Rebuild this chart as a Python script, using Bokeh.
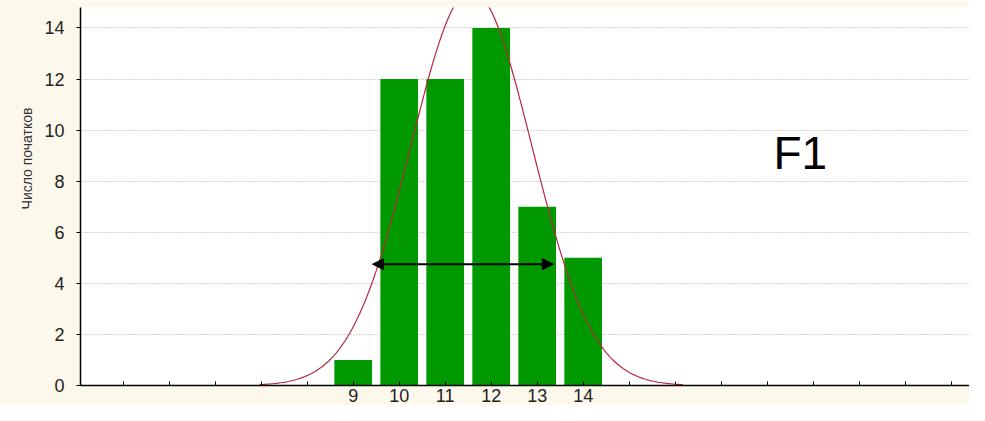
import math
import numpy as np
from bokeh.plotting import figure
from bokeh.models import Range1d, FixedTicker, Arrow, NormalHead, Label, Title
from bokeh.embed import file_html
from bokeh.resources import INLINE

# Data
classes = [9, 10, 11, 12, 13, 14]
counts = [1, 12, 12, 14, 7, 5]
y_ticks = [0, 2, 4, 6, 8, 10, 12, 14]
x_ticks = list(range(4, 23))
x_tick_labels = {9: "9", 10: "10", 11: "11", 12: "12", 13: "13", 14: "14"}
arrow_x = [9.42, 13.35]
arrow_y = 4.75
y_title = "Число початков"
panel_text = "F1"

# Fitted normal curve (expected counts) from the histogram
n = sum(counts)
mean = sum(c * k for c, k in zip(classes, counts)) / n
var = sum(k * (c - mean) ** 2 for c, k in zip(classes, counts)) / (n - 1)
sd = math.sqrt(var)
cx = np.linspace(mean - 3.5 * sd, mean + 3.5 * sd, 300)
cy = n * 1.0 / (sd * math.sqrt(2 * math.pi)) * np.exp(-0.5 * ((cx - mean) / sd) ** 2)

FONT = "Liberation Sans"
CREAM = "#FDF8EC"

p = figure(width=969, height=405, x_range=Range1d(3.07, 22.4), y_range=Range1d(0, 14.8),
           output_backend="svg", toolbar_location=None,
           min_border_left=80, min_border_right=0, min_border_top=7, min_border_bottom=20)
p.background_fill_color = "white"
p.border_fill_color = CREAM
p.outline_line_color = None

p.vbar(x=classes, top=counts, width=0.82, fill_color="#009A00", line_color=None)
p.line(cx, cy, line_color="#B5283C", line_width=1.2)

p.add_layout(Arrow(x_start=arrow_x[0], x_end=arrow_x[1], y_start=arrow_y, y_end=arrow_y,
                   line_color="black", line_width=2,
                   start=NormalHead(size=11, fill_color="black", line_color="black"),
                   end=NormalHead(size=11, fill_color="black", line_color="black")))

p.add_layout(Label(x=18.72, y=9.1, text=panel_text, text_font=FONT, text_font_size="46px",
                   text_color="black", text_align="center", text_baseline="middle"))

# y axis title as a side title, shifted above the centre like the original
p.add_layout(Title(text=y_title, align="right", offset=100, text_font=FONT,
                   text_font_size="14px", text_font_style="normal",
                   text_color="#333333", standoff=14), "left")

# grid
p.xgrid.visible = False
p.ygrid.grid_line_color = "#A8A8A8"
p.ygrid.grid_line_dash = "1 2"
p.ygrid.grid_line_width = 1
p.ygrid.ticker = FixedTicker(ticks=y_ticks)

# y axis
p.yaxis.ticker = FixedTicker(ticks=y_ticks)
p.yaxis.minor_tick_line_color = None
p.yaxis.major_tick_out = 4
p.yaxis.major_tick_in = 0
p.yaxis.major_label_standoff = 12
p.yaxis.major_label_text_font = FONT
p.yaxis.major_label_text_font_size = "18px"
p.yaxis.major_label_text_color = "#222222"
p.yaxis.axis_line_color = "black"
p.yaxis.axis_line_width = 1.5
p.yaxis.major_tick_line_color = "black"

# x axis
p.xaxis.ticker = FixedTicker(ticks=x_ticks)
p.xaxis.major_label_overrides = {t: x_tick_labels.get(t, "") for t in x_ticks}
p.xaxis.minor_tick_line_color = None
p.xaxis.major_tick_in = 4
p.xaxis.major_tick_out = 0
p.xaxis.major_label_standoff = 3
p.xaxis.major_label_text_font = FONT
p.xaxis.major_label_text_font_size = "18px"
p.xaxis.major_label_text_color = "#222222"
p.xaxis.axis_line_color = "black"
p.xaxis.axis_line_width = 1.5
p.xaxis.major_tick_line_color = "black"

open("out.html", "w").write(file_html(p, INLINE))
